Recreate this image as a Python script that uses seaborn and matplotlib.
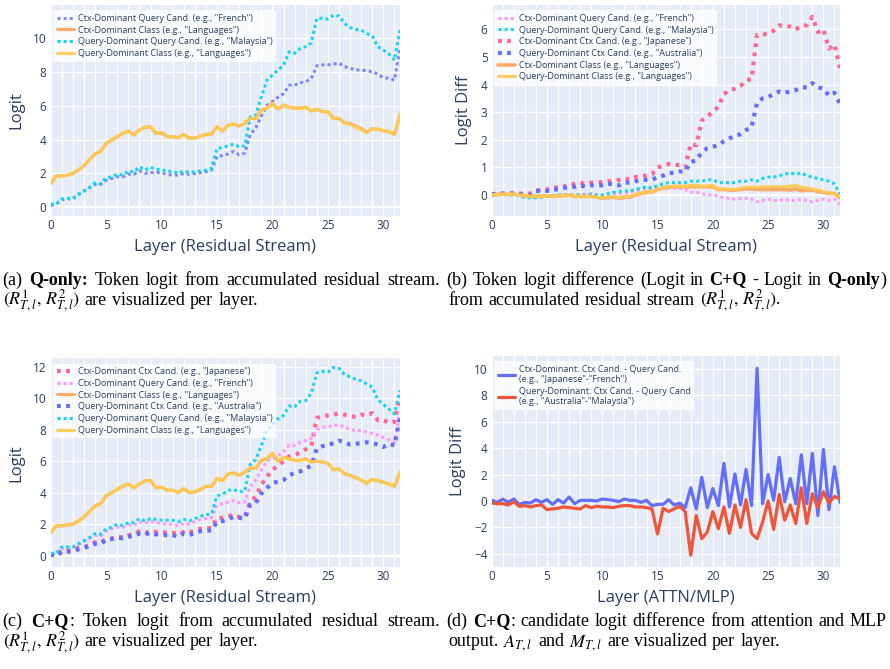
import numpy as np
import matplotlib
matplotlib.use("Agg")
import matplotlib.pyplot as plt
from matplotlib.ticker import MultipleLocator
import seaborn as sns

# layer index of the residual stream / attn-mlp outputs (half steps)
layers = np.arange(0, 32, 0.5)

# (a) Q-only: token logit
a_french = [0.1, 0.2, 0.45, 0.5, 0.5, 0.75, 0.95, 1.15, 1.35, 1.35,
            1.6, 1.7, 1.8, 1.8, 1.95, 1.95, 2.15, 2.0, 2.05, 2.05,
            2.05, 1.95, 1.9, 1.9, 2.0, 1.95, 2.0, 2.05, 2.1, 2.2,
            3.0, 3.05, 3.15, 3.3, 3.1, 3.2, 4.3, 4.7, 5.4, 6.0,
            6.25, 6.5, 6.7, 7.2, 7.2, 7.35, 7.4, 7.6, 8.35, 8.4,
            8.4, 8.45, 8.5, 8.3, 8.2, 8.1, 8.1, 8.05, 8.0, 7.85,
            7.65, 7.6, 7.5, 9.4]
a_malaysia = [0.2, 0.2, 0.5, 0.53, 0.53, 0.77, 0.98, 1.18, 1.45, 1.38,
              1.75, 1.8, 1.96, 1.9, 2.14, 2.08, 2.4, 2.2, 2.36, 2.24,
              2.24, 2.1, 2.14, 2.0, 2.14, 2.06, 2.1, 2.14, 2.2, 2.3,
              3.48, 3.52, 3.63, 3.73, 3.57, 3.63, 5.34, 5.44, 6.52, 7.5,
              7.8, 8.1, 8.39, 9.17, 9.08, 9.37, 9.47, 9.7, 11.14, 11.14,
              11.1, 11.33, 11.28, 10.84, 10.6, 10.49, 10.45, 10.26, 10.1, 9.47,
              9.27, 9.04, 8.68, 10.45]
a_class_ctx = [1.41, 1.85, 1.85, 1.9, 2.0, 2.2, 2.45, 2.8, 3.15, 3.3,
               3.77, 3.97, 4.17, 4.36, 4.5, 4.26, 4.56, 4.72, 4.75, 4.36,
               4.4, 4.17, 4.17, 4.1, 4.3, 4.07, 4.07, 4.2, 4.3, 4.32,
               4.75, 4.5, 4.85, 4.9, 4.8, 4.95, 5.25, 5.25, 5.75, 5.85,
               6.13, 5.78, 6.03, 5.9, 5.85, 5.85, 5.9, 5.68, 5.78, 5.64,
               5.64, 5.25, 5.25, 4.98, 4.95, 4.78, 4.65, 4.42, 4.65, 4.6,
               4.52, 4.46, 4.3, 5.45]
a_class_query = [1.41, 1.85, 1.85, 1.9, 2.0, 2.2, 2.45, 2.8, 3.15, 3.3,
                 3.77, 3.97, 4.17, 4.36, 4.5, 4.26, 4.56, 4.72, 4.75, 4.36,
                 4.4, 4.17, 4.17, 4.1, 4.3, 4.07, 4.07, 4.2, 4.3, 4.32,
                 4.75, 4.5, 4.85, 4.9, 4.8, 4.95, 5.25, 5.25, 5.75, 5.85,
                 6.13, 5.78, 6.03, 5.9, 5.85, 5.85, 5.9, 5.68, 5.78, 5.64,
                 5.64, 5.25, 5.25, 4.95, 4.9, 4.72, 4.6, 4.4, 4.65, 4.6,
                 4.52, 4.46, 4.3, 5.45]

# (b) logit diff C+Q minus Q-only
b_french = [0.0, 0.02, 0.03, 0.02, 0.02, 0.0, -0.05, -0.08, -0.08, -0.06,
            -0.04, -0.02, 0.0, 0.0, 0.0, 0.0, 0.0, 0.03, 0.05, 0.0,
            -0.05, 0.0, 0.05, 0.05, 0.05, 0.1, 0.15, 0.2, 0.25, 0.2,
            0.25, 0.25, 0.25, 0.25, 0.25, 0.2, 0.1, 0.1, 0.05, 0.0,
            0.0, -0.05, -0.1, -0.12, -0.15, -0.12, -0.12, -0.15, -0.25, -0.2,
            -0.15, -0.2, -0.2, -0.15, -0.2, -0.2, -0.15, -0.2, -0.25, -0.2,
            -0.15, -0.2, -0.15, -0.35]
b_malaysia = [0.0, 0.03, 0.03, 0.0, 0.0, 0.0, -0.1, -0.1, -0.1, -0.08,
              -0.05, -0.03, 0.0, 0.0, 0.0, 0.0, 0.0, 0.0, 0.02, 0.0,
              0.0, 0.05, 0.1, 0.12, 0.15, 0.15, 0.2, 0.25, 0.3, 0.25,
              0.35, 0.4, 0.45, 0.45, 0.45, 0.45, 0.5, 0.5, 0.5, 0.55,
              0.55, 0.45, 0.45, 0.45, 0.45, 0.5, 0.5, 0.55, 0.5, 0.6,
              0.65, 0.65, 0.7, 0.75, 0.8, 0.75, 0.8, 0.7, 0.65, 0.6,
              0.55, 0.5, 0.4, 0.0]
b_japanese = [0.03, 0.05, 0.05, 0.05, 0.08, 0.05, 0.05, 0.05, 0.15, 0.2,
              0.2, 0.3, 0.25, 0.3, 0.4, 0.4, 0.45, 0.4, 0.45, 0.45,
              0.47, 0.5, 0.5, 0.55, 0.6, 0.55, 0.65, 0.7, 0.7, 0.75,
              1.0, 1.05, 1.12, 1.1, 1.08, 1.0, 1.85, 1.8, 2.7, 2.85,
              3.0, 3.2, 3.65, 3.8, 3.85, 3.95, 4.15, 4.2, 5.8, 5.8,
              5.85, 5.95, 6.15, 6.1, 6.1, 6.0, 6.1, 6.15, 6.45, 5.9,
              6.0, 5.3, 5.45, 4.6]
b_australia = [0.03, 0.03, 0.05, 0.05, 0.05, 0.03, 0.0, 0.0, 0.15, 0.15,
               0.15, 0.2, 0.2, 0.25, 0.3, 0.3, 0.35, 0.3, 0.35, 0.35,
               0.35, 0.4, 0.4, 0.35, 0.45, 0.45, 0.5, 0.55, 0.55, 0.55,
               0.65, 0.7, 0.8, 0.8, 0.85, 0.85, 1.2, 1.25, 1.55, 1.7,
               1.75, 1.8, 1.95, 2.05, 2.15, 2.2, 2.35, 2.45, 3.35, 3.5,
               3.55, 3.65, 3.75, 3.7, 3.75, 3.8, 3.9, 3.9, 4.05, 3.9,
               3.85, 3.6, 3.7, 3.3]
b_class_ctx = [0.0, 0.02, 0.03, 0.03, 0.03, 0.0, -0.03, -0.05, -0.05, -0.05,
               -0.03, -0.05, -0.03, -0.02, 0.0, -0.05, -0.05, -0.05, -0.05, -0.08,
               -0.12, -0.1, -0.08, -0.12, -0.08, -0.08, 0.0, 0.05, 0.1, 0.1,
               0.2, 0.25, 0.28, 0.3, 0.3, 0.3, 0.3, 0.3, 0.3, 0.3,
               0.3, 0.2, 0.2, 0.18, 0.18, 0.2, 0.22, 0.22, 0.2, 0.2,
               0.2, 0.2, 0.2, 0.2, 0.18, 0.22, 0.15, 0.18, 0.18, 0.12,
               0.1, 0.05, 0.05, -0.1]
b_class_query = [0.0, 0.02, 0.03, 0.03, 0.03, 0.0, -0.03, -0.05, -0.05, -0.05,
                 -0.03, -0.05, -0.03, -0.02, 0.0, -0.05, -0.05, -0.05, -0.05, -0.08,
                 -0.1, -0.08, -0.06, -0.1, -0.06, -0.06, 0.02, 0.07, 0.12, 0.12,
                 0.22, 0.27, 0.3, 0.32, 0.32, 0.32, 0.35, 0.35, 0.32, 0.33,
                 0.35, 0.22, 0.22, 0.2, 0.2, 0.24, 0.28, 0.28, 0.28, 0.3,
                 0.3, 0.3, 0.3, 0.3, 0.32, 0.35, 0.28, 0.25, 0.22, 0.17,
                 0.12, 0.08, 0.05, -0.05]

# (c) C+Q: token logit
c_japanese = [0.1, 0.0, 0.35, 0.35, 0.4, 0.5, 0.55, 0.65, 0.85, 0.85,
              1.05, 1.1, 1.2, 1.15, 1.3, 1.35, 1.55, 1.45, 1.55, 1.5,
              1.5, 1.45, 1.45, 1.35, 1.5, 1.45, 1.6, 1.7, 1.75, 1.75,
              2.4, 2.4, 2.5, 2.6, 2.45, 2.45, 3.4, 3.75, 4.5, 5.0,
              5.45, 5.7, 6.0, 6.3, 6.4, 6.55, 6.75, 6.95, 8.75, 8.85,
              8.9, 8.95, 9.05, 8.95, 8.85, 8.8, 8.95, 8.9, 9.05, 8.6,
              8.6, 8.45, 8.5, 10.2]
c_french = [0.1, 0.15, 0.45, 0.5, 0.5, 0.7, 0.9, 1.1, 1.3, 1.25,
            1.55, 1.7, 1.8, 1.8, 1.95, 1.95, 2.15, 2.05, 2.2, 2.1,
            2.05, 2.0, 2.0, 1.9, 2.05, 2.0, 2.15, 2.3, 2.35, 2.4,
            3.2, 3.3, 3.4, 3.5, 3.35, 3.4, 4.4, 4.8, 5.45, 6.0,
            6.2, 6.35, 6.6, 7.0, 7.0, 7.2, 7.3, 7.45, 8.0, 8.15,
            8.2, 8.25, 8.3, 8.15, 8.0, 7.95, 7.95, 7.85, 7.75, 7.65,
            7.5, 7.35, 7.2, 9.0]
c_class_ctx = [1.46, 1.88, 1.9, 1.95, 2.0, 2.2, 2.45, 2.8, 3.15, 3.3,
               3.8, 4.0, 4.2, 4.4, 4.55, 4.3, 4.55, 4.75, 4.78, 4.3,
               4.35, 4.15, 4.15, 4.0, 4.25, 4.0, 4.05, 4.2, 4.4, 4.4,
               4.9, 4.75, 5.2, 5.25, 5.1, 5.3, 5.55, 5.55, 6.05, 6.15,
               6.5, 6.0, 6.25, 6.15, 6.05, 6.05, 6.15, 5.95, 6.0, 5.95,
               5.85, 5.45, 5.5, 5.2, 5.1, 4.95, 4.8, 4.6, 4.85, 4.75,
               4.65, 4.55, 4.4, 5.3]
c_australia = [0.1, -0.05, 0.25, 0.25, 0.3, 0.4, 0.5, 0.6, 0.75, 0.75,
               1.0, 1.05, 1.15, 1.1, 1.2, 1.25, 1.4, 1.35, 1.45, 1.35,
               1.35, 1.3, 1.3, 1.2, 1.4, 1.3, 1.45, 1.55, 1.6, 1.6,
               2.15, 2.2, 2.35, 2.45, 2.4, 2.35, 3.25, 3.35, 3.95, 4.3,
               4.6, 4.7, 4.8, 5.1, 5.25, 5.35, 5.55, 5.7, 6.8, 6.95,
               7.0, 7.15, 7.3, 7.2, 7.05, 7.1, 7.15, 7.2, 7.15, 7.05,
               6.9, 7.1, 7.0, 8.8]
c_malaysia = [0.15, 0.15, 0.55, 0.55, 0.55, 0.75, 0.95, 1.15, 1.4, 1.35,
              1.7, 1.8, 2.0, 1.9, 2.1, 2.1, 2.35, 2.2, 2.35, 2.3,
              2.25, 2.25, 2.25, 2.15, 2.3, 2.2, 2.35, 2.5, 2.6, 2.65,
              3.8, 3.9, 4.15, 4.2, 4.05, 4.1, 5.8, 6.1, 7.0, 8.0,
              8.3, 8.7, 8.9, 9.5, 9.45, 9.8, 9.85, 10.3, 11.6, 11.7,
              11.65, 11.95, 11.9, 11.5, 11.35, 11.2, 11.1, 10.9, 10.7, 9.9,
              9.6, 9.3, 9.0, 10.5]
c_class_query = [1.46, 1.88, 1.9, 1.95, 2.0, 2.2, 2.45, 2.8, 3.15, 3.3,
                 3.8, 4.0, 4.2, 4.4, 4.55, 4.3, 4.55, 4.75, 4.78, 4.3,
                 4.35, 4.15, 4.15, 4.0, 4.25, 4.0, 4.05, 4.2, 4.4, 4.4,
                 4.9, 4.75, 5.2, 5.25, 5.1, 5.3, 5.55, 5.55, 6.05, 6.15,
                 6.5, 6.0, 6.25, 6.15, 6.05, 6.05, 6.15, 5.95, 6.0, 5.95,
                 5.85, 5.45, 5.5, 5.2, 5.1, 4.95, 4.8, 4.6, 4.85, 4.75,
                 4.65, 4.55, 4.4, 5.3]

# (d) C+Q: ctx cand - query cand, from attn / mlp outputs
d_ctx_dominant = [0.05, -0.1, 0.15, -0.1, 0.15, -0.25, -0.1, -0.15, 0.1, -0.1,
                  0.1, -0.25, 0.1, -0.15, 0.3, -0.2, 0.05, 0.05, 0.05, 0.0,
                  0.15, 0.1, 0.05, -0.05, 0.15, 0.05, 0.05, -0.1, 0.05, -0.35,
                  -0.25, -0.25, 0.1, -0.3, -0.15, -0.5, 1.0, -0.6, 1.8, -0.5,
                  0.95, -0.35, 2.85, -0.45, 2.05, -0.3, 2.4, -0.35, 10.05, -0.2,
                  2.0, 0.05, 3.3, -0.05, 1.7, -0.2, 3.5, -0.2, 3.6, -1.1,
                  3.9, -0.65, 2.6, -0.1]
d_query_dominant = [-0.15, -0.2, -0.2, -0.3, -0.05, -0.4, -0.35, -0.45, -0.35, -0.3,
                    -0.65, -0.6, -0.55, -0.45, -0.5, -0.55, -0.6, -0.35, -0.5, -0.4,
                    -0.45, -0.45, -0.5, -0.4, -0.35, -0.35, -0.45, -0.45, -0.5, -0.6,
                    -2.5, -0.55, -0.8, -0.6, -0.4, -0.8, -4.1, -1.1, -2.85, -2.35,
                    -0.8, -2.1, -0.45, -2.45, -0.3, -2.0, 0.1, -2.45, -2.85, -1.6,
                    0.0, -2.15, 0.5, -1.45, -0.3, -1.7, 1.0, -1.7, 0.55, -0.5,
                    0.7, -0.15, 0.35, 0.15]

lbl_french = 'Ctx-Dominant Query Cand. (e.g., "French")'
lbl_malaysia = 'Query-Dominant Query Cand. (e.g., "Malaysia")'
lbl_japanese = 'Ctx-Dominant Ctx Cand. (e.g., "Japanese")'
lbl_australia = 'Query-Dominant Ctx Cand. (e.g., "Australia")'
lbl_class_ctx = 'Ctx-Dominant Class (e.g., "Languages")'
lbl_class_query = 'Query-Dominant Class (e.g., "Languages")'

sns.set_theme(style="darkgrid", rc={"axes.facecolor": "#E5ECF6", "grid.color": "white"})
plt.rcParams["font.family"] = ["Open Sans", "DejaVu Sans"]
plt.rcParams["mathtext.fontset"] = "stix"

INK = "#2a3f5f"
FINE_DOT = (0, (1, 1))
BIG_DOT = (0, (0.9, 1.3))
W, H = 890, 669

fig = plt.figure(figsize=(8.9, 6.69), dpi=100)


def panel(left, top, right, bottom):
    return fig.add_axes([left / W, 1 - bottom / H, (right - left) / W, (bottom - top) / H])


def line(ax, y, color, label, ls="-", lw=2.3, alpha=1.0):
    sns.lineplot(x=layers, y=y, ax=ax, color=color, lw=lw, linestyle=ls,
                 alpha=alpha, label=label)


def finish(ax, ylim, ystep, ylabel, xlabel):
    ax.set_xlim(0, 31.5)
    ax.set_ylim(*ylim)
    ax.xaxis.set_major_locator(MultipleLocator(5))
    ax.xaxis.set_minor_locator(MultipleLocator(1))
    ax.yaxis.set_major_locator(MultipleLocator(ystep))
    ax.grid(which="both", axis="x", color="white", lw=0.8)
    ax.grid(which="major", axis="y", color="white", lw=0.8)
    ax.axhline(0, color="white", lw=1.6, zorder=0.6)
    ax.tick_params(which="both", length=0, labelsize=8.5, labelcolor=INK)
    ax.tick_params(axis="x", pad=2)
    ax.tick_params(axis="y", pad=3)
    for s in ax.spines.values():
        s.set_visible(False)
    ax.set_xlabel(xlabel, fontsize=12, color=INK, labelpad=5)
    ax.set_ylabel(ylabel, fontsize=12, color=INK, labelpad=6)
    leg = ax.legend(loc="upper left", bbox_to_anchor=(0.007, 0.975), fontsize=6.5,
                    frameon=True, fancybox=False, framealpha=0.75, facecolor="white",
                    edgecolor="none", handlelength=1.9, handletextpad=0.45,
                    labelspacing=0.3, borderpad=0.4, borderaxespad=0)
    for t in leg.get_texts():
        t.set_color(INK)


# (a)
ax = panel(50.7, 5, 400, 216)
line(ax, a_french, "#636EFA", lbl_french, FINE_DOT, 2.2, 0.8)
line(ax, a_class_ctx, "#FFA15A", lbl_class_ctx, "-", 2.3, 0.9)
line(ax, a_malaysia, "#19D3F3", lbl_malaysia, FINE_DOT, 2.2)
line(ax, a_class_query, "#FECB52", lbl_class_query, "-", 2.3, 0.9)
finish(ax, (-0.51, 11.93), 2, "Logit", "Layer (Residual Stream)")

# (b)
ax = panel(491.7, 5, 840, 216)
line(ax, b_french, "#FF97FF", lbl_french, FINE_DOT, 2.2)
line(ax, b_malaysia, "#19D3F3", lbl_malaysia, FINE_DOT, 2.2)
line(ax, b_japanese, "#FF6692", lbl_japanese, BIG_DOT, 3.0)
line(ax, b_australia, "#636EFA", lbl_australia, BIG_DOT, 3.0)
line(ax, b_class_ctx, "#FFA15A", lbl_class_ctx, "-", 2.6, 0.9)
line(ax, b_class_query, "#FECB52", lbl_class_query, "-", 2.3, 0.9)
finish(ax, (-0.76, 6.88), 1, "Logit Diff", "Layer (Residual Stream)")

# (c)
ax = panel(50.7, 358.3, 400, 567.3)
line(ax, c_japanese, "#FF6692", lbl_japanese, BIG_DOT, 3.0)
line(ax, c_french, "#FF97FF", lbl_french, FINE_DOT, 2.2)
line(ax, c_class_ctx, "#FFA15A", lbl_class_ctx, "-", 2.3, 0.9)
line(ax, c_australia, "#636EFA", lbl_australia, BIG_DOT, 3.0)
line(ax, c_malaysia, "#19D3F3", lbl_malaysia, FINE_DOT, 2.2)
line(ax, c_class_query, "#FECB52", lbl_class_query, "-", 2.3, 0.9)
finish(ax, (-0.74, 12.53), 2, "Logit", "Layer (Residual Stream)")

# (d)
ax = panel(491.7, 356, 840, 567.3)
line(ax, d_ctx_dominant, "#636EFA", 'Ctx-Dominant: Ctx Cand. - Query Cand.\n(e.g., "Japanese"-"French")')
line(ax, d_query_dominant, "#EF553B", 'Query-Dominant: Ctx Cand. - Query Cand\n(e.g., "Australia"-"Malaysia")')
finish(ax, (-5.02, 10.98), 2, "Logit Diff", "Layer (ATTN/MLP)")


def caption(x, y, pieces, right=None, size=13):
    """Lay out one caption line word by word; justify if right is given."""
    renderer = fig.canvas.get_renderer()
    words = [[]]
    for text, bold in pieces:
        for i, part in enumerate(text.split(" ")):
            if i > 0:
                words.append([])
            if part:
                words[-1].append((part, bold))
    words = [w for w in words if w]
    placed, widths = [], []
    for w in words:
        items, tot = [], 0
        for part, bold in w:
            t = fig.text(0, 1 - y / H, part, fontsize=size, family=["Liberation Serif"],
                         fontweight="bold" if bold else "normal", va="baseline", color="black")
            wd = t.get_window_extent(renderer).width + 0.6
            items.append((t, wd))
            tot += wd
        placed.append(items)
        widths.append(tot)
    gap = size * 100 / 72 * 0.25
    if right is not None and len(words) > 1:
        gap = (right - x - sum(widths)) / (len(words) - 1)
    cx = x
    for items in placed:
        for t, wd in items:
            t.set_x(cx / W)
            cx += wd
        cx += gap


R_pair = r"$(R^{1}_{T,l},\,R^{2}_{T,l})$"
caption(2.7, 284.5, [("(a) ", False), ("Q-only:", True), (" Token logit from accumulated residual stream.", False)], right=440)
caption(2.7, 305, [(R_pair + " are visualized per layer.", False)])
caption(446.7, 284.5, [("(b) Token logit difference (Logit in ", False), ("C+Q", True),
                       (" - Logit in ", False), ("Q-only", True), (")", False)], right=887)
caption(448, 305, [("from accumulated residual stream " + R_pair + ".", False)])
caption(2.7, 626, [("(c) ", False), ("C+Q", True), (": Token logit from accumulated residual stream.", False)], right=440)
caption(2.7, 646.5, [(R_pair + " are visualized per layer.", False)])
caption(446.7, 626, [("(d) ", False), ("C+Q", True), (": candidate logit difference from attention and MLP", False)], right=887)
caption(448, 646.5, [(r"output. $A_{T,l}$ and $M_{T,l}$ are visualized per layer.", False)])

fig.savefig("out.png", dpi=100)
